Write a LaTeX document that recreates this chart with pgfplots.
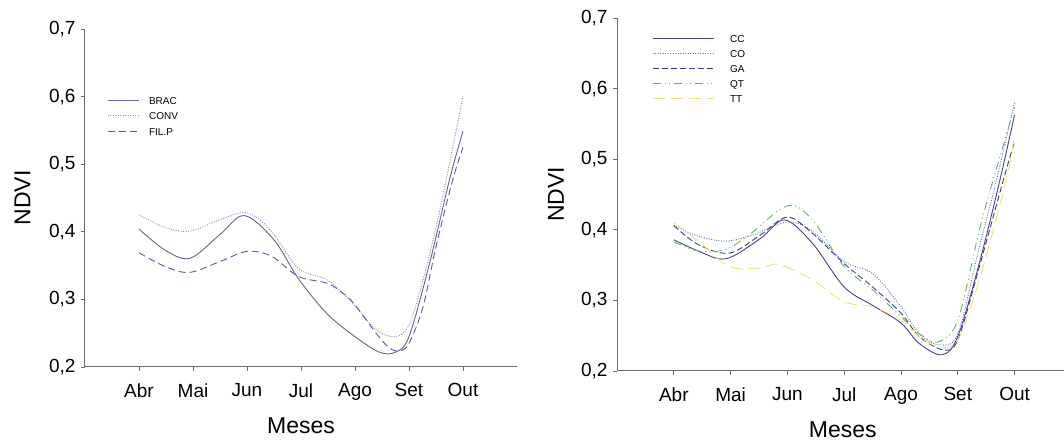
\documentclass[border=0pt]{standalone}
\usepackage{pgfplots}
\pgfplotsset{compat=1.18}
\usepackage{fontspec}
\setmainfont{Liberation Sans}
\definecolor{axgray}{HTML}{6B6B6B}
\definecolor{cBRAC}{HTML}{6E5F8C}
\definecolor{cCONV}{HTML}{8C84B4}
\definecolor{cFIL}{HTML}{5C58A8}
\definecolor{cCC}{HTML}{4E3F8C}
\definecolor{cCO}{HTML}{6670C8}
\definecolor{cGA}{HTML}{3C4080}
\definecolor{cQT}{HTML}{5DB85D}
\definecolor{cTT}{HTML}{EDE27A}
\pgfplotsset{
  myaxis/.style={
    scale only axis,
    axis x line=bottom, axis y line=left,
    axis line style={-, color=axgray, line width=1pt},
    xmin=0, ymin=0.2, ymax=0.7,
    xtick={1,2,3,4,5,6,7}, xticklabels={Abr,Mai,Jun,Jul,Ago,Set,Out},
    ytick={0.2,0.3,0.4,0.5,0.6,0.7},
    yticklabels={{0,2},{0,3},{0,4},{0,5},{0,6},{0,7}},
    tick align=outside, major tick length=4pt,
    tick style={color=axgray, line width=0.8pt},
    ticklabel style={font=\fontsize{19}{21}\selectfont, text=black},
    /pgf/number format/assume math mode=true,
    xticklabel style={yshift=-9pt},
    yticklabel style={xshift=-2pt},
    label style={font=\fontsize{23}{25}\selectfont, inner sep=0pt},
    xlabel={Meses}, ylabel={NDVI},
    legend cell align=left,
    every axis plot/.append style={line width=0.9pt, smooth, tension=0.55, mark=none},
  }
}
\begin{document}
\begin{tikzpicture}[x=1pt,y=1pt]
\useasboundingbox (0,0) rectangle (1064,441);
\begin{axis}[myaxis, at={(85pt,74pt)}, anchor=south west,
  width=432pt, height=338pt, xmax=8,
  xlabel style={at={(axis description cs:0.5,-0.1953)}, anchor=base},
  ylabel style={at={(axis description cs:-0.1264,0.5)}, anchor=base, rotate=0},
  legend style={at={(axis cs:0.407,0.601)}, anchor=north west, draw=none, fill=none,
    inner sep=0pt, font=\fontsize{10}{10}\selectfont,
    nodes={inner sep=0pt, text height=8pt, text depth=0pt},
    row sep=7.5pt, column sep=10pt},
  legend image code/.code={\draw[#1] (0pt,0pt) -- (31pt,0pt);},
]
\addplot[cBRAC] coordinates {(1,0.404) (1.5,0.372) (1.95,0.361) (2.5,0.396) (2.95,0.424) (3.5,0.388) (3.95,0.331) (4.48,0.279) (5.0,0.245) (5.45,0.222) (5.75,0.222) (6.0,0.245) (6.38,0.353) (6.75,0.477) (7,0.549)};
\addlegendentry{BRAC}
\addplot[cCONV, dash pattern=on 1pt off 1.5pt] coordinates {(1,0.425) (1.5,0.406) (1.95,0.401) (2.5,0.418) (3.0,0.428) (3.44,0.402) (3.95,0.346) (4.48,0.329) (4.95,0.295) (5.39,0.255) (5.75,0.245) (6.0,0.262) (6.26,0.329) (6.56,0.428) (7,0.600)};
\addlegendentry{CONV}
\addplot[cFIL, dash pattern=on 7pt off 4pt] coordinates {(1,0.369) (1.5,0.348) (1.94,0.340) (2.5,0.356) (3.0,0.371) (3.45,0.364) (3.95,0.334) (4.48,0.324) (4.78,0.309) (5.0,0.292) (5.39,0.250) (5.64,0.228) (5.83,0.224) (6.0,0.235) (6.26,0.289) (6.5,0.378) (6.81,0.477) (7,0.525)};
\addlegendentry{FIL.P}
\end{axis}
\begin{axis}[myaxis, at={(617pt,70pt)}, anchor=south west,
  width=447pt, height=353pt, xmax=7.87,
  xlabel style={at={(axis description cs:0.505,-0.187)}, anchor=base},
  ylabel style={at={(axis description cs:-0.1186,0.5)}, anchor=base, rotate=0},
  legend style={at={(axis cs:0.616,0.677)}, anchor=north west, draw=none, fill=none,
    inner sep=0pt, font=\fontsize{10}{10}\selectfont,
    nodes={inner sep=0pt, text height=8pt, text depth=0pt},
    row sep=7pt, column sep=16pt},
  legend image code/.code={\draw[#1] (0pt,0pt) -- (61pt,0pt);},
]
\addplot[cCC] coordinates {(1,0.386) (1.43,0.370) (1.92,0.359) (2.53,0.388) (2.95,0.414) (3.44,0.381) (4.0,0.319) (4.5,0.293) (5.0,0.268) (5.32,0.239) (5.72,0.223) (6.0,0.249) (6.38,0.353) (6.74,0.470) (7,0.563)};
\addlegendentry{CC}
\addplot[cCO, dash pattern=on 1pt off 1.5pt] coordinates {(1,0.406) (1.43,0.391) (1.92,0.384) (2.40,0.393) (3.0,0.411) (3.44,0.398) (4.0,0.355) (4.5,0.338) (5.0,0.291) (5.32,0.253) (5.68,0.237) (6.0,0.253) (6.38,0.376) (6.68,0.470) (7,0.581)};
\addlegendentry{CO}
\addplot[cGA, dash pattern=on 6pt off 3pt] coordinates {(1,0.406) (1.43,0.379) (1.98,0.367) (2.53,0.393) (3.0,0.418) (3.44,0.395) (4.0,0.352) (4.5,0.319) (5.0,0.282) (5.32,0.249) (5.74,0.230) (6.0,0.244) (6.38,0.348) (6.8,0.470) (7,0.525)};
\addlegendentry{GA}
\addplot[cQT, dash pattern=on 8pt off 4pt on 1pt off 3pt on 1pt off 4pt] coordinates {(1,0.383) (1.43,0.370) (1.91,0.372) (2.33,0.393) (3.0,0.434) (3.44,0.414) (4.0,0.348) (4.5,0.315) (5.0,0.277) (5.32,0.253) (5.65,0.241) (6.0,0.272) (6.38,0.400) (6.62,0.470) (7,0.574)};
\addlegendentry{QT}
\addplot[cTT, dash pattern=on 12pt off 6pt] coordinates {(1,0.410) (1.43,0.384) (1.98,0.348) (2.53,0.346) (2.85,0.351) (3.44,0.329) (4.0,0.298) (4.5,0.291) (5.0,0.272) (5.32,0.249) (5.68,0.234) (6.0,0.244) (6.38,0.329) (6.85,0.470) (7,0.535)};
\addlegendentry{TT}
\end{axis}
\end{tikzpicture}
\end{document}
